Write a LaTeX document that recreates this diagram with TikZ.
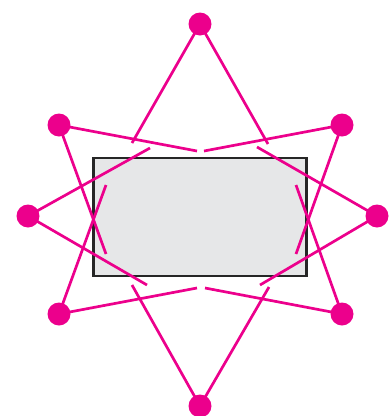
\documentclass[tikz,border=0pt]{standalone}
\usepackage{tikz}
\usepackage{xcolor}
\definecolor{spokepink}{HTML}{EC008C}
\definecolor{panelgray}{HTML}{E6E7E8}

\begin{document}
\begin{tikzpicture}[
    x=1pt, y=-1pt,
    panel/.style={draw=black!85, fill=panelgray, line width=2.5pt, minimum width=213pt, minimum height=118pt, inner sep=0pt},
    dot/.style={circle, fill=spokepink, inner sep=0pt, minimum size=23pt},
    spoke/.style={draw=spokepink, line width=2.7pt}
]
\useasboundingbox (0,0) rectangle (390,416);

\node[panel] (frame) at (200,217) {};

% outer dots
\node[dot] (top) at (200,24) {};
\node[dot] (ul) at (59,125) {};
\node[dot] (ur) at (342,125) {};
\node[dot] (lft) at (28,216) {};
\node[dot] (rgt) at (377,216) {};
\node[dot] (ll) at (59,314) {};
\node[dot] (lr) at (342,314) {};
\node[dot] (bot) at (200,406) {};

% loose ends of the spokes
\coordinate (t1) at (132,143);
\coordinate (t2) at (268,144);
\coordinate (ul1) at (197,151);
\coordinate (ul2) at (106,254);
\coordinate (ur1) at (204,151);
\coordinate (ur2) at (296,254);
\coordinate (l1) at (150,148);
\coordinate (l2) at (147,285);
\coordinate (r1) at (257,147);
\coordinate (r2) at (260,285);
\coordinate (ll1) at (106,185);
\coordinate (ll2) at (197,288);
\coordinate (lr1) at (296,185);
\coordinate (lr2) at (205,288);
\coordinate (b1) at (132,285);
\coordinate (b2) at (269,287);

\draw[spoke] (top.center) -- (t1) (top.center) -- (t2);
\draw[spoke] (ul.center) -- (ul1) (ul.center) -- (ul2);
\draw[spoke] (ur.center) -- (ur1) (ur.center) -- (ur2);
\draw[spoke] (lft.center) -- (l1) (lft.center) -- (l2);
\draw[spoke] (rgt.center) -- (r1) (rgt.center) -- (r2);
\draw[spoke] (ll.center) -- (ll1) (ll.center) -- (ll2);
\draw[spoke] (lr.center) -- (lr1) (lr.center) -- (lr2);
\draw[spoke] (bot.center) -- (b1) (bot.center) -- (b2);
\end{tikzpicture}
\end{document}
